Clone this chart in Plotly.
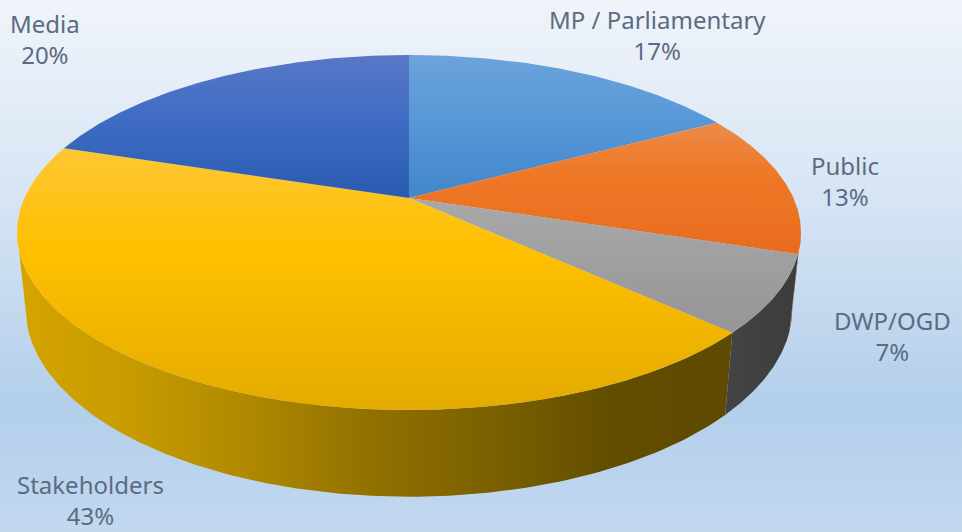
import numpy as np
import plotly.graph_objects as go

# Slices, clockwise from twelve o'clock
categories = ["MP / Parliamentary", "Public", "DWP/OGD", "Stakeholders", "Media"]
shares = [17, 13, 7, 43, 20]

# Top-face shading of each slice, lit from the back of the disc
top_shades = {
    "MP / Parliamentary": [[0, "#6ca3da"], [0.21, "#5596d7"], [0.38, "#4388cb"], [1, "#3f84c8"]],
    "Public": [[0, "#f09a62"], [0.2, "#ec8a4a"], [0.32, "#ee7a28"], [0.55, "#ea6c1e"], [1, "#e96c1c"]],
    "DWP/OGD": [[0, "#b4b4b4"], [0.4, "#a9a9a9"], [0.7, "#999999"], [1, "#8f8f8f"]],
    "Stakeholders": [[0, "#fdcb45"], [0.3, "#fdc62e"], [0.55, "#ffc000"], [1, "#e4ab00"]],
    "Media": [[0, "#5878c6"], [0.21, "#3c6ac3"], [0.38, "#2c5cb2"], [1, "#2a58ab"]],
}
wall_shades = {
    "Public": ["#a0521a", "#a0521a"],
    "DWP/OGD": ["#444444", "#3c3c3c"],
    "Stakeholders": ["#d6a400", "#c69a00", "#ad8700", "#907000", "#7a6000", "#624d00", "#5e4a00"],
}
label_anchors = {
    "MP / Parliamentary": (657, 35),
    "Public": (845, 181),
    "DWP/OGD": (892, 336),
    "Stakeholders": (90, 500),
    "Media": (45, 39),
}
background_shades = [[0, "#f0f4fa"], [0.38, "#d6e4f4"], [0.76, "#b3cfeb"], [1, "#c2d8ef"]]

# Perspective disc: scale and centre line of the top and bottom faces, in pixels
TILT = 0.1944
CENTER_X = 409
top_face = dict(a=384.5, b=170.8, cy=198)
bottom_face = dict(a=376.0, b=181.0, cy=272)


def project(theta, face):
    """Map an angle (clockwise from twelve o'clock) onto a face of the disc."""
    u, v = np.sin(theta), np.cos(theta)
    d = 1 + TILT * v
    return CENTER_X + face["a"] * u / d, face["cy"] - face["b"] * v / d


fractions = np.cumsum([0] + shares) / sum(shares)
starts = 2 * np.pi * fractions[:-1]
stops = 2 * np.pi * fractions[1:]

# The silhouette of the disc meets the wall where v = -TILT
edge_right = np.arccos(-TILT)
edge_left = 2 * np.pi - np.arccos(-TILT)

fig = go.Figure()

# Page backdrop
fig.add_trace(go.Scatter(
    x=[0, 962, 962, 0, 0], y=[0, 0, 532, 532, 0], mode="lines", fill="toself",
    line=dict(width=0), hoverinfo="skip",
    fillgradient=dict(type="vertical", colorscale=background_shades, start=0, stop=532),
))

# Side walls, for the part of each slice that faces the viewer
for name, a0, a1 in zip(categories, starts, stops):
    if name not in wall_shades:
        continue
    lo, hi = max(a0, edge_right), min(a1, edge_left)
    if lo >= hi:
        continue
    theta = np.linspace(lo, hi, 160)
    tx, ty = project(theta, top_face)
    bx, by = project(theta[::-1], bottom_face)
    shades = wall_shades[name]
    scale = [[i / (len(shades) - 1), c] for i, c in enumerate(shades)]
    fig.add_trace(go.Scatter(
        x=np.r_[tx, bx, tx[0]], y=np.r_[ty, by, ty[0]], mode="lines", fill="toself",
        line=dict(width=0), hoverinfo="skip",
        fillgradient=dict(type="horizontal", colorscale=scale,
                          start=float(min(tx.min(), bx.min())), stop=float(max(tx.max(), bx.max()))),
    ))

# Top face wedges
for name, a0, a1 in zip(categories, starts, stops):
    theta = np.linspace(a0, a1, 160)
    rx, ry = project(theta, top_face)
    apex_x, apex_y = CENTER_X, top_face["cy"]
    fig.add_trace(go.Scatter(
        x=np.r_[apex_x, rx, apex_x], y=np.r_[apex_y, ry, apex_y], mode="lines", fill="toself",
        line=dict(width=0), hoverinfo="skip",
        fillgradient=dict(type="vertical", colorscale=top_shades[name], start=55, stop=410),
    ))

# Category and percentage labels
for name, share in zip(categories, shares):
    x, y = label_anchors[name]
    fig.add_annotation(x=x, y=y, text=f"{name}<br>{share}%", showarrow=False, align="center",
                       font=dict(family="Noto Sans", size=24, color="#5b6c82"))

fig.update_layout(
    width=962, height=532, margin=dict(l=0, r=0, t=0, b=0), showlegend=False,
    paper_bgcolor="#d6e4f4", plot_bgcolor="rgba(0,0,0,0)",
    xaxis=dict(range=[0, 962], visible=False, fixedrange=True),
    yaxis=dict(range=[532, 0], visible=False, fixedrange=True),
)
fig.write_html("out.html", config={"displayModeBar": False})
